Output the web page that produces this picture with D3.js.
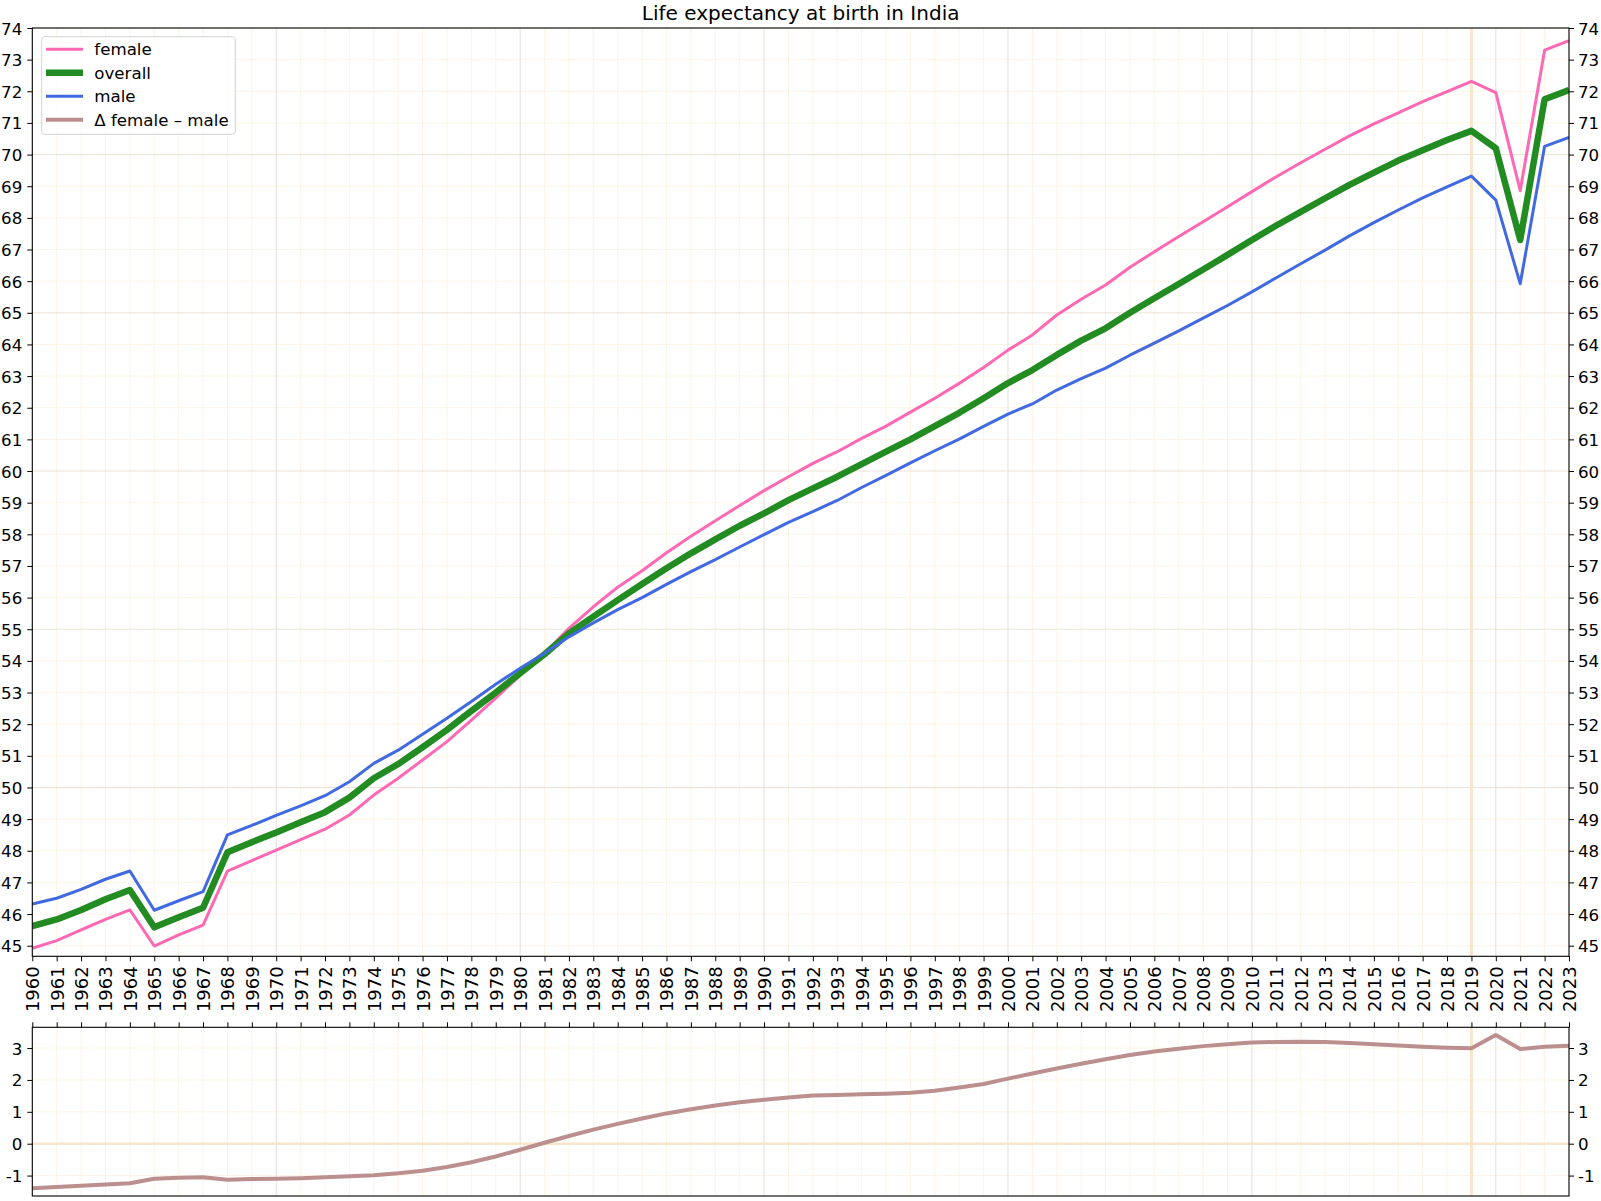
<!DOCTYPE html>
<html>
<head>
<meta charset="utf-8">
<script src="https://cdn.jsdelivr.net/npm/d3@7"></script>
<style>
  html, body { margin: 0; padding: 0; background: #ffffff; }
  svg { display: block; font-family: "DejaVu Sans", sans-serif; }
</style>
</head>
<body>
<svg id="chart" width="1601" height="1201"></svg>
<script>
// ---------------- data ----------------
const years = d3.range(1960, 2024);

const female = [
  44.92, 45.16, 45.50, 45.83, 46.13, 44.99, 45.34, 45.65, 47.36, 47.69,
  48.02, 48.35, 48.68, 49.13, 49.76, 50.29, 50.87, 51.45, 52.13, 52.82,
  53.55, 54.24, 55.03, 55.71, 56.33, 56.85, 57.42, 57.94, 58.43, 58.91,
  59.38, 59.82, 60.24, 60.61, 61.03, 61.42, 61.86, 62.30, 62.77, 63.27,
  63.82, 64.30, 64.93, 65.43, 65.88, 66.44, 66.93, 67.41, 67.88, 68.35,
  68.83, 69.30, 69.74, 70.17, 70.59, 70.97, 71.32, 71.67, 71.99, 72.31,
  71.96, 68.86, 73.30, 73.60
];

const overall = [
  45.62, 45.83, 46.13, 46.47, 46.76, 45.58, 45.90, 46.20, 47.95, 48.27,
  48.58, 48.90, 49.22, 49.68, 50.29, 50.74, 51.27, 51.82, 52.42, 53.00,
  53.61, 54.21, 54.87, 55.40, 55.92, 56.43, 56.93, 57.40, 57.84, 58.27,
  58.66, 59.08, 59.45, 59.82, 60.22, 60.61, 61.00, 61.42, 61.84, 62.30,
  62.78, 63.19, 63.67, 64.12, 64.51, 65.00, 65.46, 65.91, 66.37, 66.83,
  67.30, 67.76, 68.19, 68.62, 69.04, 69.43, 69.81, 70.14, 70.46, 70.75,
  70.20, 67.30, 71.75, 72.04
];

const male = [
  46.32, 46.50, 46.78, 47.10, 47.36, 46.12, 46.42, 46.71, 48.50, 48.80,
  49.12, 49.42, 49.74, 50.18, 50.76, 51.18, 51.68, 52.19, 52.72, 53.26,
  53.77, 54.24, 54.76, 55.20, 55.62, 56.00, 56.42, 56.82, 57.20, 57.60,
  57.99, 58.38, 58.72, 59.07, 59.48, 59.86, 60.26, 60.64, 61.01, 61.41,
  61.80, 62.12, 62.56, 62.92, 63.25, 63.66, 64.04, 64.43, 64.83, 65.23,
  65.66, 66.11, 66.55, 66.98, 67.43, 67.85, 68.25, 68.63, 68.98, 69.32,
  68.56, 65.92, 70.26, 70.54
];

const deltaFM = [
  -1.40, -1.36, -1.32, -1.28, -1.24, -1.10, -1.07, -1.05, -1.13, -1.11,
  -1.10, -1.08, -1.05, -1.02, -0.99, -0.93, -0.85, -0.73, -0.58, -0.40,
  -0.19, 0.03, 0.24, 0.44, 0.62, 0.79, 0.95, 1.08, 1.20, 1.30,
  1.38, 1.45, 1.51, 1.53, 1.55, 1.57, 1.60, 1.66, 1.76, 1.87,
  2.04, 2.20, 2.36, 2.51, 2.65, 2.78, 2.89, 2.98, 3.06, 3.12,
  3.17, 3.19, 3.20, 3.19, 3.16, 3.12, 3.08, 3.04, 3.01, 2.99,
  3.41, 2.97, 3.04, 3.07
];

const mainTicks = d3.range(45, 75);
const deltaTicks = [-1, 0, 1, 2, 3];
const titleText = "Life expectancy at birth in India";
const legendLabels = ["female", "overall", "male", "\u0394 female \u2013 male"];
const markerYear = 2019;

// ---------------- layout ----------------
const svg = d3.select("#chart");
const L = 32.3, R = 1569;
const mainTop = 28, mainBot = 956.3;
const subTop = 1027.3, subBot = 1196;

const x = d3.scaleLinear().domain([1960, 2023]).range([L, R]);
const y = d3.scaleLinear().domain([44.665, 74]).range([mainBot, mainTop]);
const dExt = d3.extent(deltaFM);
const dPad = (dExt[1] - dExt[0]) * 0.05;
const yd = d3.scaleLinear().domain([dExt[0] - dPad, dExt[1] + dPad]).range([subBot, subTop]);

const C = {
  female: "#ff69b4", overall: "#228b22", male: "#4169e1", delta: "#bc8f8f",
  minor: "#fdf4e5", majorH: "#ece3d7", majorV: "#e4dfd8", marker: "#f8e6cb"
};
const fmt = d => String(d);

// clip paths
const defs = svg.append("defs");
defs.append("clipPath").attr("id", "clipMain").append("rect")
  .attr("x", L).attr("y", mainTop).attr("width", R - L).attr("height", mainBot - mainTop);
defs.append("clipPath").attr("id", "clipSub").append("rect")
  .attr("x", L).attr("y", subTop).attr("width", R - L).attr("height", subBot - subTop);

function drawGrid(g, yScale, yMinor, yMajor, top, bot, specialH) {
  g.selectAll(null).data(years.filter(v => v % 10 !== 0 && v !== markerYear)).enter().append("line")
    .attr("x1", d => x(d)).attr("x2", d => x(d)).attr("y1", top).attr("y2", bot)
    .attr("stroke", C.minor).attr("stroke-width", 1);
  g.selectAll(null).data(yMinor).enter().append("line")
    .attr("x1", L).attr("x2", R).attr("y1", d => yScale(d)).attr("y2", d => yScale(d))
    .attr("stroke", C.minor).attr("stroke-width", 1);
  g.selectAll(null).data(yMajor).enter().append("line")
    .attr("x1", L).attr("x2", R).attr("y1", d => yScale(d)).attr("y2", d => yScale(d))
    .attr("stroke", C.majorH).attr("stroke-width", 1);
  g.selectAll(null).data(years.filter(v => v % 10 === 0 && v > 1960)).enter().append("line")
    .attr("x1", d => x(d)).attr("x2", d => x(d)).attr("y1", top).attr("y2", bot)
    .attr("stroke", C.majorV).attr("stroke-width", 1);
  if (specialH !== null) {
    g.append("line").attr("x1", L).attr("x2", R)
      .attr("y1", yScale(specialH)).attr("y2", yScale(specialH))
      .attr("stroke", C.marker).attr("stroke-width", 2.5);
  }
  g.append("line").attr("x1", x(markerYear)).attr("x2", x(markerYear))
    .attr("y1", top).attr("y2", bot)
    .attr("stroke", C.marker).attr("stroke-width", 3);
}

// ---------------- main panel ----------------
const gMain = svg.append("g");
drawGrid(gMain, y,
  mainTicks.filter(v => v % 5 !== 0 || v === 45),
  mainTicks.filter(v => v % 5 === 0 && v !== 45),
  mainTop, mainBot, null);

const lineGen = arr => d3.line().x((d, i) => x(years[i])).y(d => y(d))(arr);
const series = [
  { data: female, color: C.female, w: 3 },
  { data: overall, color: C.overall, w: 6.5 },
  { data: male, color: C.male, w: 3 }
];
const gLines = gMain.append("g").attr("clip-path", "url(#clipMain)");
series.forEach(s => {
  gLines.append("path").attr("d", lineGen(s.data))
    .attr("fill", "none").attr("stroke", s.color).attr("stroke-width", s.w)
    .attr("stroke-linejoin", "round").attr("stroke-linecap", "butt");
});

gMain.append("rect").attr("x", L).attr("y", mainTop).attr("width", R - L).attr("height", mainBot - mainTop)
  .attr("fill", "none").attr("stroke", "#000").attr("stroke-width", 1.1);

const axL = d3.axisLeft(y).tickValues(mainTicks).tickSize(5).tickPadding(5).tickFormat(fmt);
const axR = d3.axisRight(y).tickValues(mainTicks).tickSize(5).tickPadding(4).tickFormat(fmt);
const axB = d3.axisBottom(x).tickValues(years).tickSize(5).tickFormat(fmt);

function styleAxis(g, fs) {
  g.select(".domain").remove();
  g.selectAll(".tick line").attr("stroke", "#000").attr("stroke-width", 1);
  g.selectAll(".tick text").attr("fill", "#000").style("font-size", fs + "px")
    .style("font-family", "'DejaVu Sans', sans-serif");
}
const gL = svg.append("g").attr("transform", `translate(${L},0)`).call(axL);
styleAxis(gL, 16.67);
gL.selectAll(".tick text").attr("dy", "0.36em");
const gR = svg.append("g").attr("transform", `translate(${R},0)`).call(axR);
styleAxis(gR, 16.67);
gR.selectAll(".tick text").attr("dy", "0.36em");

const gB = svg.append("g").attr("transform", `translate(0,${mainBot})`).call(axB);
styleAxis(gB, 18);
gB.selectAll(".tick text")
  .attr("transform", "rotate(-90)")
  .attr("text-anchor", "end")
  .attr("x", -10).attr("y", 0).attr("dy", "0.36em");

// ---------------- sub panel ----------------
const gSub = svg.append("g");
drawGrid(gSub, yd, deltaTicks.filter(v => v !== 0), [], subTop, subBot, 0);
gSub.append("g").attr("clip-path", "url(#clipSub)").append("path")
  .attr("d", d3.line().x((d, i) => x(years[i])).y(d => yd(d))(deltaFM))
  .attr("fill", "none").attr("stroke", C.delta).attr("stroke-width", 4)
  .attr("stroke-linejoin", "round");
gSub.append("rect").attr("x", L).attr("y", subTop).attr("width", R - L).attr("height", subBot - subTop)
  .attr("fill", "none").attr("stroke", "#000").attr("stroke-width", 1.1);

const gSL = svg.append("g").attr("transform", `translate(${L},0)`)
  .call(d3.axisLeft(yd).tickValues(deltaTicks).tickSize(5).tickPadding(5).tickFormat(fmt));
styleAxis(gSL, 16.67);
gSL.selectAll(".tick text").attr("dy", "0.36em");
const gSR = svg.append("g").attr("transform", `translate(${R},0)`)
  .call(d3.axisRight(yd).tickValues(deltaTicks).tickSize(5).tickPadding(4).tickFormat(fmt));
styleAxis(gSR, 16.67);
gSR.selectAll(".tick text").attr("dy", "0.36em");
const gST = svg.append("g").attr("transform", `translate(0,${subTop})`)
  .call(d3.axisTop(x).tickValues(years).tickSize(5).tickFormat(""));
styleAxis(gST, 15);

// ---------------- title ----------------
svg.append("text").attr("x", (L + R) / 2).attr("y", 20)
  .attr("text-anchor", "middle").style("font-size", "20px").attr("fill", "#000")
  .text(titleText);

// ---------------- legend ----------------
const leg = svg.append("g");
leg.append("rect").attr("x", 41.7).attr("y", 36.7).attr("width", 193.6).attr("height", 97.6)
  .attr("rx", 3).attr("fill", "#fff").attr("fill-opacity", 0.8)
  .attr("stroke", "#d3d3d3").attr("stroke-width", 1);
const legItems = [
  { label: legendLabels[0], color: C.female, w: 3 },
  { label: legendLabels[1], color: C.overall, w: 6.5 },
  { label: legendLabels[2], color: C.male, w: 3 },
  { label: legendLabels[3], color: C.delta, w: 4 }
];
legItems.forEach((it, i) => {
  const cy = 49.3 + i * 23.5;
  leg.append("line").attr("x1", 46).attr("x2", 83).attr("y1", cy).attr("y2", cy)
    .attr("stroke", it.color).attr("stroke-width", it.w);
  leg.append("text").attr("x", 94.3).attr("y", cy).attr("dy", "0.36em")
    .style("font-size", "16.67px").attr("fill", "#000").text(it.label);
});
</script>
</body>
</html>
